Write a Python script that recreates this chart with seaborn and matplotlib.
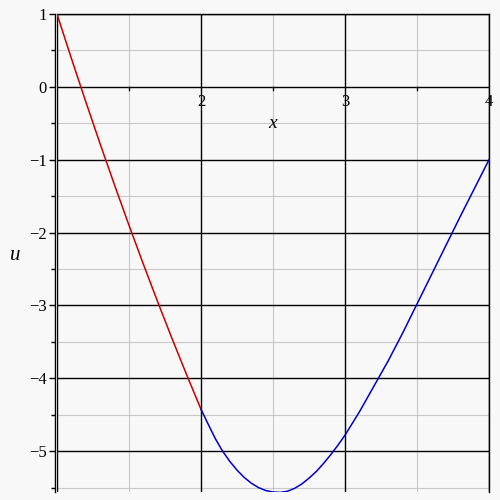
import matplotlib
matplotlib.use("Agg")
import matplotlib.pyplot as plt
import seaborn as sns
import pandas as pd
from matplotlib.ticker import FixedLocator

# ---- data ----
red_x = [1.0, 1.1, 1.2, 1.3, 1.4, 1.5, 1.6, 1.7, 1.8, 1.9, 2.0]
red_u = [1.0, 0.39, -0.205, -0.785, -1.35, -1.9, -2.435, -2.955, -3.46, -3.95, -4.425]

blue_x = [2.0, 2.05, 2.1, 2.15, 2.2, 2.25, 2.3, 2.35, 2.4, 2.45, 2.5, 2.55,
          2.6, 2.65, 2.7, 2.75, 2.8, 2.85, 2.9, 2.95, 3.0, 3.1, 3.2, 3.3,
          3.4, 3.5, 3.6, 3.7, 3.8, 3.9, 4.0]
blue_u = [-4.425, -4.63, -4.83, -5.0, -5.14, -5.26, -5.36, -5.44, -5.5, -5.54,
          -5.56, -5.565, -5.55, -5.51, -5.45, -5.37, -5.28, -5.17, -5.05, -4.92,
          -4.78, -4.46, -4.11, -3.76, -3.38, -2.98, -2.58, -2.18, -1.78, -1.39,
          -1.0]

x_ticks = [2, 3, 4]
x_tick_labels = ["2", "3", "4"]
y_ticks = [1, 0, -1, -2, -3, -4, -5]
y_tick_labels = ["1", "0", "\u22121", "\u22122", "\u22123", "\u22124", "\u22125"]
x_minor = [1.5, 2.5, 3.5]
y_minor = [0.5, -0.5, -1.5, -2.5, -3.5, -4.5, -5.5]

segments = ["red"] * len(red_x) + ["blue"] * len(blue_x)
df = pd.DataFrame({"x": red_x + blue_x, "u": red_u + blue_u, "seg": segments})

bg = "#f8f8f8"
fig = plt.figure(figsize=(5, 5), dpi=100, facecolor=bg)
ax = fig.add_axes([57 / 500, 1 - 492 / 500, 432 / 500, 478 / 500])
ax.set_facecolor(bg)

# grid
for v in x_minor:
    ax.axvline(v, color="#c8c8c8", lw=0.8, zorder=1)
for v in y_minor:
    ax.axhline(v, color="#c8c8c8", lw=0.8, zorder=1)
for v in x_ticks:
    ax.axvline(v, color="black", lw=1.0, zorder=1.5)
for v in y_ticks:
    ax.axhline(v, color="black", lw=1.0, zorder=1.5)
ax.axvline(1.0, color="black", lw=1.0, zorder=1.5)

sns.lineplot(data=df, x="x", y="u", hue="seg", palette={"red": "#c80000", "blue": "#0000c8"},
             estimator=None, sort=False, lw=1.1, legend=False, ax=ax, zorder=3)

ax.set_xlim(1.0, 4.0)
ax.set_ylim(-5.56, 1.0)

# spines
ax.spines["bottom"].set_visible(False)
ax.spines["top"].set_color("black")
ax.spines["top"].set_linewidth(1.0)
ax.spines["right"].set_color("black")
ax.spines["right"].set_linewidth(1.0)
ax.spines["left"].set_position(("outward", 1.44))
ax.spines["left"].set_linewidth(1.0)

# x ticks: drawn as labels under the u=0 line
ax.set_xticks([])
for xv, lab in zip(x_ticks, x_tick_labels):
    ax.text(xv, -0.1, lab, ha="center", va="top", fontsize=12,
            family="Liberation Serif", color="black", zorder=4)
for xv in x_minor:
    ax.plot([xv, xv], [0, -0.04], color="black", lw=1.0, zorder=2)

ax.yaxis.set_major_locator(FixedLocator(y_ticks))
ax.set_yticklabels(y_tick_labels, family="Liberation Serif", fontsize=12)
ax.yaxis.set_minor_locator(FixedLocator(y_minor))
ax.tick_params(axis="y", which="major", length=4, width=1.0, pad=2, color="black")
ax.tick_params(axis="y", which="minor", length=3, width=1.0, color="black")

ax.set_xlabel("x", family="Liberation Serif", style="italic", fontsize=14)
ax.xaxis.set_label_coords((273 - 57) / 432, 1 - (123 - 14) / 478)
ax.xaxis.label.set_va("center")
ax.set_ylabel("u", family="Liberation Serif", style="italic", fontsize=15, rotation=0)
ax.yaxis.set_label_coords((15 - 57) / 432, 1 - (255 - 14) / 478)
ax.yaxis.label.set_va("center")

fig.savefig("out.png", dpi=100, facecolor=bg)
